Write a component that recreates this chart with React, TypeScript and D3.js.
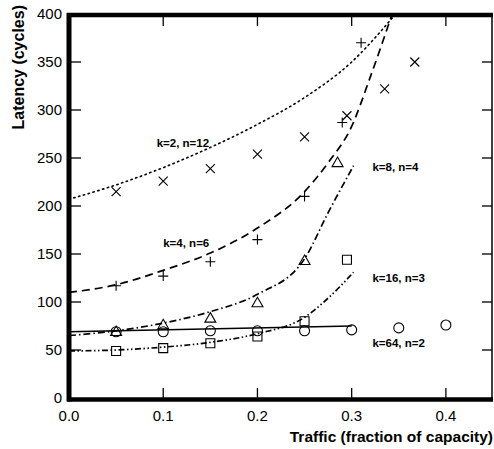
import * as d3 from "d3";
import { useEffect, useRef } from "react";

// ---- data ----
const xTicks = [0, 0.1, 0.2, 0.3, 0.4];
const yTicks = [0, 50, 100, 150, 200, 250, 300, 350, 400];

const seriesNames = ["k=2, n=12", "k=4, n=6", "k=8, n=4", "k=16, n=3", "k=64, n=2"];

// simulation points
const k2Points = [[0.05, 215], [0.1, 226], [0.15, 239], [0.2, 254], [0.25, 272], [0.295, 294], [0.335, 322], [0.367, 350]];
const k4Points = [[0.05, 117], [0.1, 127], [0.15, 142], [0.2, 165], [0.25, 210], [0.29, 287], [0.31, 370]];
const k8Points = [[0.05, 69], [0.1, 76], [0.15, 83], [0.2, 99], [0.25, 143], [0.285, 245]];
const k16Points = [[0.05, 49], [0.1, 52], [0.15, 57], [0.2, 64], [0.25, 80], [0.295, 144]];
const k64Points = [[0.05, 69], [0.1, 69], [0.15, 70], [0.2, 70], [0.25, 70], [0.3, 71], [0.35, 73], [0.4, 76]];

// model curves
const k2Model = [[0, 207], [0.05, 222], [0.1, 240], [0.15, 261], [0.2, 285], [0.25, 313], [0.3, 350], [0.345, 398]];
const k4Model = [[0, 110], [0.05, 118], [0.1, 133], [0.15, 151], [0.2, 177], [0.25, 215], [0.275, 245], [0.3, 283], [0.32, 335], [0.343, 400]];
const k8Model = [[0, 65], [0.05, 70], [0.1, 78], [0.15, 90], [0.2, 108], [0.25, 145], [0.275, 193], [0.302, 242]];
const k16Model = [[0, 49], [0.05, 50], [0.1, 53], [0.15, 58], [0.2, 67], [0.25, 84], [0.275, 104], [0.302, 131]];
const k64Model = [[0, 69], [0.3, 75]];

// where each label sits (data units: left edge, middle)
const labelAt = [[0.093, 266], [0.1, 161], [0.322, 241], [0.322, 125], [0.322, 57]];

const markerShapes = ["times", "plus", "triangle", "square", "circle"];
const dashes = ["1.4,3.6", "8,5", "7,3,1.5,3", "6,2.5,1.5,2.5,1.5,2.5", ""];

function markerPath(shape: string, r: number) {
    if (shape === "times") return `M${-r},${-r}L${r},${r}M${-r},${r}L${r},${-r}`;
    if (shape === "plus") return `M${-r},0L${r},0M0,${-r}L0,${r}`;
    if (shape === "triangle") {
        const h = r * 1.73;
        return `M0,${-h * 0.6}L${r},${h * 0.4}L${-r},${h * 0.4}Z`;
    }
    if (shape === "square") return `M${-r},${-r}H${r}V${r}H${-r}Z`;
    return `M${r},0A${r},${r} 0 1,1 ${-r},0A${r},${r} 0 1,1 ${r},0`;
}

export default function App() {
    const ref = useRef<SVGSVGElement | null>(null);

    useEffect(() => {
        const width = 494;
        const height = 449;
        const svg = d3.select(ref.current);
        svg.selectAll("*").remove();

        const x = d3.scaleLinear([0, 0.45], [69, 493]);
        const y = d3.scaleLinear([0, 400], [398, 14]);
        const font = "'Liberation Sans', Arial, Helvetica, sans-serif";

        svg.append("rect").attr("width", width).attr("height", height).attr("fill", "#fff");

        const points = [k2Points, k4Points, k8Points, k16Points, k64Points];
        const models = [k2Model, k4Model, k8Model, k16Model, k64Model];

        const line = d3
            .line<number[]>()
            .x((d) => x(d[0]))
            .y((d) => y(d[1]))
            .curve(d3.curveMonotoneX);

        models.forEach((m, i) => {
            svg.append("path")
                .attr("d", line(m))
                .attr("fill", "none")
                .attr("stroke", "#000")
                .attr("stroke-width", i === 0 ? 1.6 : i === 4 ? 1.5 : 1.7)
                .attr("stroke-linecap", i === 0 ? "round" : "butt")
                .attr("stroke-dasharray", dashes[i]);
        });

        points.forEach((pts, i) => {
            const shape = markerShapes[i];
            const r = shape === "times" ? 4.5 : shape === "plus" ? 5 : shape === "triangle" ? 5.5 : shape === "square" ? 4.5 : 5;
            svg.append("g")
                .selectAll("path")
                .data(pts)
                .join("path")
                .attr("transform", (d) => `translate(${x(d[0])},${y(d[1])})`)
                .attr("d", markerPath(shape, r))
                .attr("fill", "none")
                .attr("stroke", "#000")
                .attr("stroke-width", 1.1);
        });

        // series labels
        seriesNames.forEach((name, i) => {
            svg.append("text")
                .attr("x", x(labelAt[i][0]))
                .attr("y", y(labelAt[i][1]))
                .attr("dy", "0.35em")
                .attr("font-family", font)
                .attr("font-size", 11.5)
                .attr("font-weight", "bold")
                .text(name);
        });

        // frame
        const x0 = x(0), x1 = x(0.45), yb = y(0), yt = y(400);
        svg.append("line").attr("x1", x0 - 2).attr("x2", x1).attr("y1", yt + 1).attr("y2", yt + 1)
            .attr("stroke", "#000").attr("stroke-width", 4.5);
        svg.append("line").attr("x1", x0 - 2).attr("x2", x1).attr("y1", yb + 1.5).attr("y2", yb + 1.5)
            .attr("stroke", "#000").attr("stroke-width", 4.5);
        svg.append("line").attr("x1", x0).attr("x2", x0).attr("y1", yt - 1).attr("y2", yb + 3.5)
            .attr("stroke", "#000").attr("stroke-width", 5);
        svg.append("line").attr("x1", x1 - 1).attr("x2", x1 - 1).attr("y1", yt).attr("y2", yb)
            .attr("stroke", "#000").attr("stroke-width", 1.5);

        // inward ticks
        const tickG = svg.append("g").attr("stroke", "#000").attr("stroke-width", 1.3);
        xTicks.filter((t) => t > 0).forEach((t) => {
            tickG.append("line").attr("x1", x(t)).attr("x2", x(t)).attr("y1", yb).attr("y2", yb - 10);
            tickG.append("line").attr("x1", x(t)).attr("x2", x(t)).attr("y1", yt).attr("y2", yt + 12);
        });
        yTicks.filter((t) => t > 0 && t < 400).forEach((t) => {
            tickG.append("line").attr("x1", x0).attr("x2", x0 + 12).attr("y1", y(t)).attr("y2", y(t));
            tickG.append("line").attr("x1", x1 - 1).attr("x2", x1 - 11).attr("y1", y(t)).attr("y2", y(t));
        });

        // tick labels
        svg.append("g")
            .selectAll("text")
            .data(xTicks)
            .join("text")
            .attr("x", (d) => x(d))
            .attr("y", 421)
            .attr("text-anchor", "middle")
            .attr("font-family", font)
            .attr("font-size", 15)
            .text((d) => d3.format(".1f")(d));

        svg.append("g")
            .selectAll("text")
            .data(yTicks)
            .join("text")
            .attr("x", 62)
            .attr("y", (d) => y(d))
            .attr("dy", "0.36em")
            .attr("text-anchor", "end")
            .attr("font-family", font)
            .attr("font-size", 15)
            .text((d) => String(d));

        // axis titles
        svg.append("text")
            .attr("x", 493)
            .attr("y", 442)
            .attr("text-anchor", "end")
            .attr("font-family", font)
            .attr("font-size", 15.5)
            .attr("font-weight", "bold")
            .text("Traffic (fraction of capacity)");

        svg.append("text")
            .attr("transform", "translate(24,5) rotate(-90)")
            .attr("text-anchor", "end")
            .attr("font-family", font)
            .attr("font-size", 16)
            .attr("font-weight", "bold")
            .text("Latency (cycles)");
    }, []);

    return (
        <svg
            ref={ref}
            width={494}
            height={449}
            style={{ position: "absolute", left: 0, top: 0, display: "block" }}
        />
    );
}
